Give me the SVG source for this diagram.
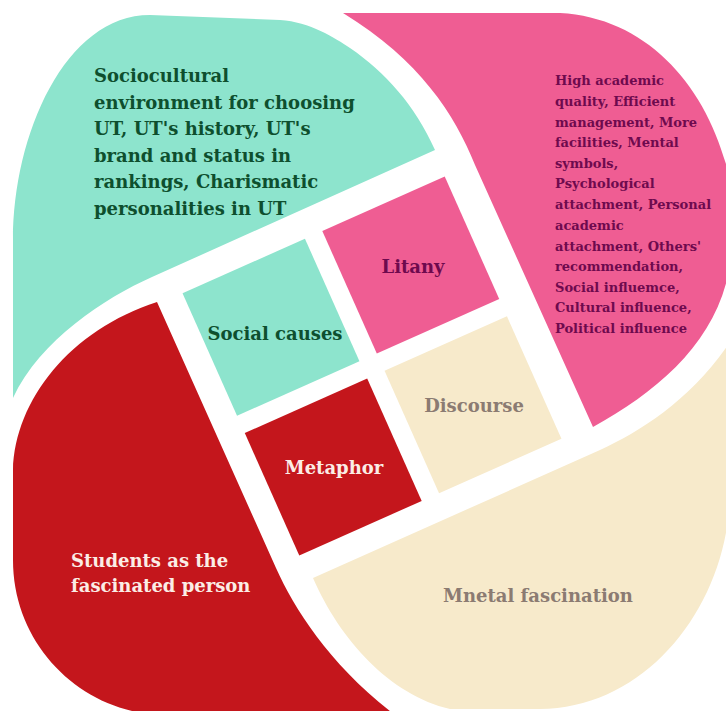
<svg xmlns="http://www.w3.org/2000/svg" width="726" height="711" viewBox="0 0 726 711">
<style>
text{font-family:"DejaVu Serif","Liberation Serif",serif;font-weight:bold}
.big{font-size:18px}
.small{font-size:13px}
.teal{fill:#8DE4CD}.pink{fill:#EF5D93}.red{fill:#C4161C}.beige{fill:#F7EACB}
.tgreen{fill:#0E4F2E}.tplum{fill:#6E0A4E}.tcream{fill:#FBEDE6}.tbrown{fill:#8B7B72}
.mid{text-anchor:middle}
</style>
<rect width="726" height="711" fill="#ffffff"/>
<g id="petal-teal">
<path class="teal" d="M435,150 L152,277 C105,298 40,340 13,398 L13,240 C13,135 65,15 150,15 L280,20 C310,22 335,38 350,48 C385,72 415,105 435,150 Z"/>
<text class="big tgreen" x="94" y="82">Sociocultural</text>
<text class="big tgreen" x="94" y="108.5">environment for choosing</text>
<text class="big tgreen" x="94" y="135">UT, UT's history, UT's</text>
<text class="big tgreen" x="94" y="161.5">brand and status in</text>
<text class="big tgreen" x="94" y="188">rankings, Charismatic</text>
<text class="big tgreen" x="94" y="214.5">personalities in UT</text>
</g>
<g id="petal-pink">
<path class="pink" d="M343,13 L560,13 C650,18 710,90 730,180 L730,265 C718,340 660,390 593,427 L475,165 C455,115 420,60 343,13 Z"/>
<text class="small tplum" x="555" y="85">High academic</text>
<text class="small tplum" x="555" y="106">quality, Efficient</text>
<text class="small tplum" x="555" y="127">management, More</text>
<text class="small tplum" x="555" y="147">facilities, Mental</text>
<text class="small tplum" x="555" y="168">symbols,</text>
<text class="small tplum" x="555" y="188">Psychological</text>
<text class="small tplum" x="555" y="209">attachment, Personal</text>
<text class="small tplum" x="555" y="230">academic</text>
<text class="small tplum" x="555" y="251">attachment, Others'</text>
<text class="small tplum" x="555" y="271">recommendation,</text>
<text class="small tplum" x="555" y="292">Social influemce,</text>
<text class="small tplum" x="555" y="312">Cultural influence,</text>
<text class="small tplum" x="555" y="333">Political influence</text>
</g>
<g id="petal-beige">
<path class="beige" d="M313,578 L600,450 C640,432 690,400 728,345 L728,520 C715,620 640,708 540,709 L450,709 C390,695 340,640 313,578 Z"/>
<text class="big tbrown mid" x="538" y="602">Mnetal fascination</text>
</g>
<g id="petal-red">
<path class="red" d="M157,302 L276,568 C295,610 330,665 395,715 L160,715 C80,711 13,645 13,560 L13,470 C15,400 70,330 157,302 Z"/>
<text class="big tcream" x="71" y="567">Students as the</text>
<text class="big tcream" x="71" y="592">fascinated person</text>
</g>
<g id="grid" transform="translate(372,366) rotate(-24)">
<rect id="sq-social" class="teal" x="-143.5" y="-143.5" width="134" height="134"/>
<rect id="sq-litany" class="pink" x="9.5" y="-143.5" width="134" height="134"/>
<rect id="sq-metaphor" class="red" x="-143.5" y="9.5" width="134" height="134"/>
<rect id="sq-discourse" class="beige" x="9.5" y="9.5" width="134" height="134"/>
</g>
<g id="grid-labels">
<text class="big tgreen mid" x="275" y="340">Social causes</text>
<text class="big tplum mid" x="413" y="273">Litany</text>
<text class="big tcream mid" x="334" y="474">Metaphor</text>
<text class="big tbrown mid" x="474" y="412">Discourse</text>
</g>
</svg>
